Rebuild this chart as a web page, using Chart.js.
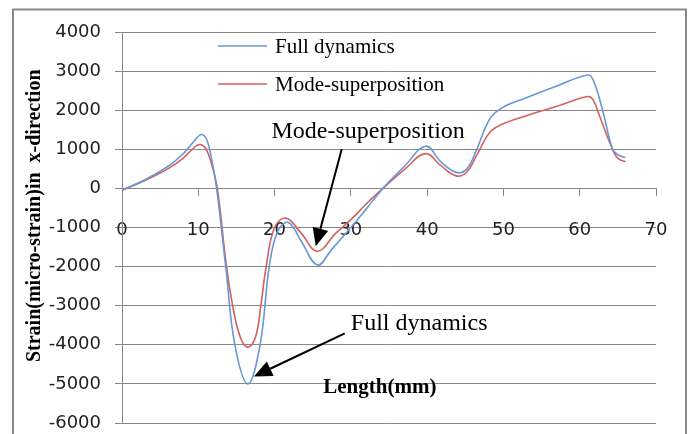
<!DOCTYPE html>
<html>
<head>
<meta charset="utf-8">
<script src="https://cdn.jsdelivr.net/npm/chart.js@4/dist/chart.umd.min.js"></script>
<style>
  html, body { margin: 0; padding: 0; background: #ffffff; }
  #wrap { width: 688px; height: 434px; position: relative; }
</style>
</head>
<body>
<div id="wrap"><canvas id="chart" width="688" height="434"></canvas></div>
<script>
// Strain along the specimen length (mm), micro-strain in x-direction
const seriesNames = ['Full dynamics', 'Mode-superposition'];

const lengthFull = [0, 3, 6, 8, 9.5, 10.4, 11.1, 11.7, 12.4, 13.6, 14.8, 16.5,
  18.1, 19.3, 20.4, 21.8, 23.5, 25.6, 27.5, 30, 32, 34.2, 37, 39.8, 41.8, 43.8,
  45.2, 46.5, 48.2, 49.8, 53, 57, 61.1, 61.8, 63, 64.3, 65, 66];
const strainFull = [-50, 220, 560, 880, 1220, 1380, 1250, 800, 0, -2000, -4000, -5000,
  -4000, -2000, -1100, -870, -1350, -1960, -1560, -1000, -530, 0, 560, 1080, 680, 410,
  500, 1000, 1770, 2060, 2320, 2620, 2900, 2760, 2000, 1000, 860, 790];

const lengthMode = [0, 3, 6, 8, 9.2, 10.1, 10.9, 11.7, 12.5, 13.7, 14.7, 15.6, 16.5,
  17.5, 18.2, 18.9, 20, 21.5, 23.5, 25.6, 28, 30, 32, 34.2, 37, 39.8, 41.8, 43.8,
  45.2, 46.5, 48.2, 49.8, 53, 57, 61.1, 61.8, 62.6, 64.4, 65, 66];
const strainMode = [-50, 200, 500, 770, 1000, 1120, 1040, 650, 0, -2000, -3200, -3850, -4060,
  -3800, -3000, -2000, -1000, -760, -1150, -1610, -1150, -800, -400, 0, 480, 890, 580, 320,
  420, 850, 1430, 1640, 1860, 2100, 2350, 2250, 1850, 950, 770, 680];

const xTicks = { min: 0, max: 70, step: 10 };
const yTicks = { min: -6000, max: 4000, step: 1000 };

const xTitle = 'Length(mm)';
const yTitle = 'Strain(micro-strain)in  x-direction';

// Callouts: label text, label anchor and arrow tail/tip in data units
const callouts = [
  { text: 'Mode-superposition', at: [19.6, 1460], tail: [28.8, 1000], tip: [25.4, -1480] },
  { text: 'Full dynamics', at: [30, -3460], tail: [29.2, -3710], tip: [17.3, -4810] }
];

const seriesColors = ['#6797d4', '#d1625f'];
const gridColor = '#878787';
const serif = '"Liberation Serif", "Times New Roman", serif';

function toPoints(xs, ys) {
  return xs.map((x, i) => ({ x: x, y: ys[i] }));
}

const decorations = {
  id: 'decorations',
  beforeDraw(chart) {
    const ctx = chart.ctx;
    ctx.save();
    ctx.fillStyle = '#ffffff';
    ctx.fillRect(0, 0, chart.width, chart.height);
    // outer chart frame
    ctx.strokeStyle = '#8a8a8a';
    ctx.lineWidth = 2;
    ctx.strokeRect(13, 9.5, 673, 440);
    ctx.restore();
  },
  afterDraw(chart) {
    const ctx = chart.ctx;
    const area = chart.chartArea;
    const xs = chart.scales.x, ys = chart.scales.y;
    ctx.save();

    // legend inside the plot
    const legendX = area.left + 96;
    const legendY = [area.top + 14, area.top + 52];
    chart.data.datasets.forEach((ds, i) => {
      ctx.strokeStyle = ds.borderColor;
      ctx.lineWidth = 1.5;
      ctx.beginPath();
      ctx.moveTo(legendX, legendY[i]);
      ctx.lineTo(legendX + 49, legendY[i]);
      ctx.stroke();
      ctx.fillStyle = '#000';
      ctx.font = '21px ' + serif;
      ctx.textBaseline = 'middle';
      ctx.textAlign = 'left';
      ctx.fillText(ds.label, legendX + 57, legendY[i] + 1);
    });

    // axis titles
    ctx.fillStyle = '#000';
    ctx.textAlign = 'center';
    ctx.textBaseline = 'middle';
    ctx.font = 'bold 21px ' + serif;
    ctx.fillText(xTitle, xs.getPixelForValue(33.8), ys.getPixelForValue(-5100));

    ctx.save();
    ctx.translate(35, ys.getPixelForValue(-700));
    ctx.rotate(-Math.PI / 2);
    ctx.font = 'bold 20px ' + serif;
    ctx.fillText(yTitle, 0, 0);
    ctx.restore();

    // callouts with arrows
    callouts.forEach(c => {
      ctx.font = '24px ' + serif;
      ctx.textAlign = 'left';
      ctx.textBaseline = 'middle';
      ctx.fillStyle = '#000';
      ctx.fillText(c.text, xs.getPixelForValue(c.at[0]), ys.getPixelForValue(c.at[1]));

      const x1 = xs.getPixelForValue(c.tail[0]), y1 = ys.getPixelForValue(c.tail[1]);
      const x2 = xs.getPixelForValue(c.tip[0]), y2 = ys.getPixelForValue(c.tip[1]);
      const ang = Math.atan2(y2 - y1, x2 - x1);
      const headLen = 18, headHalf = 8;
      const bx = x2 - headLen * Math.cos(ang), by = y2 - headLen * Math.sin(ang);
      ctx.strokeStyle = '#000';
      ctx.lineWidth = 2;
      ctx.beginPath();
      ctx.moveTo(x1, y1);
      ctx.lineTo(bx, by);
      ctx.stroke();
      ctx.beginPath();
      ctx.moveTo(x2, y2);
      ctx.lineTo(bx + headHalf * Math.sin(ang), by - headHalf * Math.cos(ang));
      ctx.lineTo(bx - headHalf * Math.sin(ang), by + headHalf * Math.cos(ang));
      ctx.closePath();
      ctx.fillStyle = '#000';
      ctx.fill();
    });
    ctx.restore();
  }
};

const tickFont = { family: '"DejaVu Sans", Verdana, sans-serif', size: 18 };
const plainNumber = v => String(v);

new Chart(document.getElementById('chart'), {
  type: 'line',
  data: {
    datasets: [
      {
        label: seriesNames[0],
        data: toPoints(lengthFull, strainFull),
        borderColor: seriesColors[0],
        borderWidth: 1.6,
        pointRadius: 0,
        tension: 0.4,
        fill: false
      },
      {
        label: seriesNames[1],
        data: toPoints(lengthMode, strainMode),
        borderColor: seriesColors[1],
        borderWidth: 1.6,
        pointRadius: 0,
        tension: 0.4,
        fill: false
      }
    ]
  },
  options: {
    responsive: false,
    animation: false,
    layout: { padding: { left: 0, top: 32, right: 32, bottom: 11 } },
    plugins: {
      legend: { display: false },
      tooltip: { enabled: false }
    },
    scales: {
      x: {
        type: 'linear',
        min: xTicks.min,
        max: xTicks.max,
        position: { y: 0 },
        ticks: { stepSize: xTicks.step, padding: 24, font: tickFont, color: '#222', callback: plainNumber },
        grid: { drawOnChartArea: false, drawTicks: true, tickLength: 7, color: gridColor },
        border: { color: gridColor, width: 1 },
        afterFit(scale) { scale.paddingLeft = 0; scale.paddingRight = 0; }
      },
      y: {
        type: 'linear',
        min: yTicks.min,
        max: yTicks.max,
        position: 'left',
        ticks: { stepSize: yTicks.step, padding: 14, font: tickFont, color: '#222', callback: plainNumber },
        grid: { color: gridColor, tickLength: 7 },
        border: { color: gridColor, width: 1 },
        afterFit(scale) { scale.width = 122; scale.paddingTop = 0; scale.paddingBottom = 0; }
      }
    }
  },
  plugins: [decorations]
});
</script>
</body>
</html>
